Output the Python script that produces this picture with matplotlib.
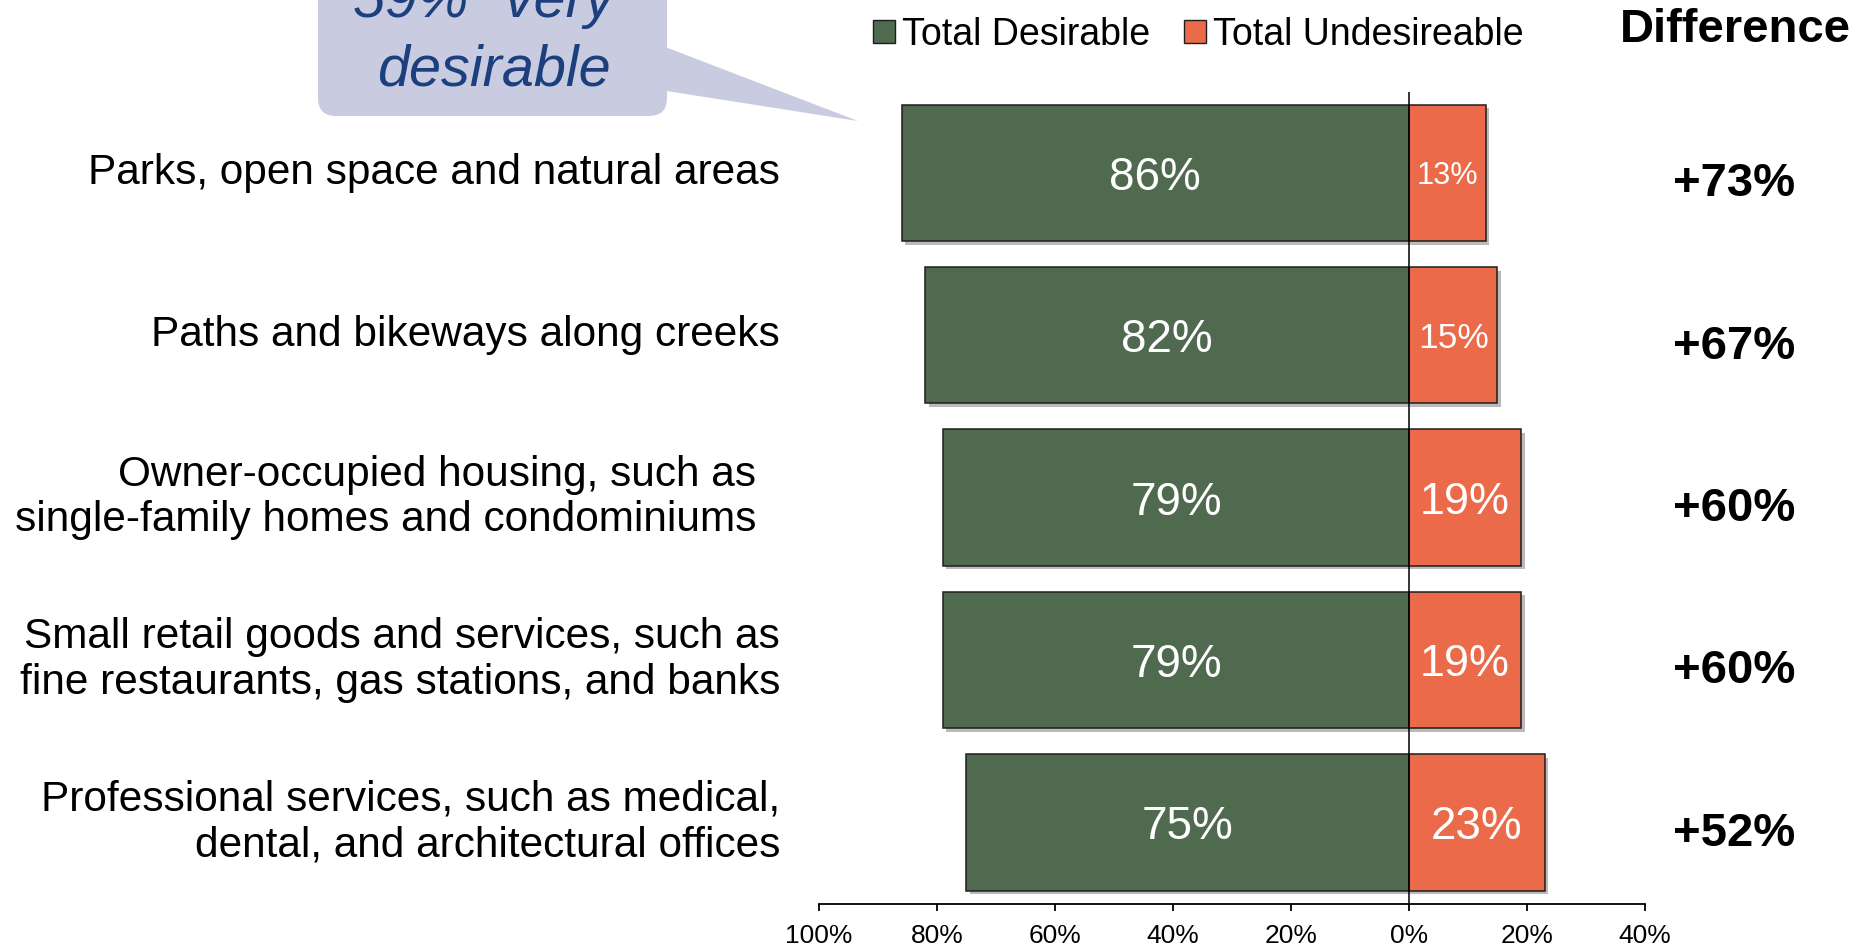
import matplotlib
matplotlib.use("Agg")
import matplotlib.pyplot as plt
import matplotlib.patheffects as pe
import matplotlib.transforms as mtransforms
from matplotlib.patches import Patch, FancyBboxPatch, Polygon

plt.rcParams['font.family'] = ['Liberation Sans', 'DejaVu Sans']

# data
categories = [
    "Parks, open space and natural areas",
    "Paths and bikeways along creeks",
    "Owner-occupied housing, such as  \nsingle-family homes and condominiums  ",
    "Small retail goods and services, such as\nfine restaurants, gas stations, and banks",
    "Professional services, such as medical,\ndental, and architectural offices",
]
desirable = [86, 82, 79, 79, 75]
undesirable = [13, 15, 19, 19, 23]
difference = [73, 67, 60, 60, 52]
tick_values = [-100, -80, -60, -40, -20, 0, 20, 40]
callout_lines = ['59% "very"', 'desirable']

green = '#506a50'
orange = '#ea6a4a'
W, H = 1874, 949

fig = plt.figure(figsize=(W / 100, H / 100), dpi=100)
ax = fig.add_axes([819 / W, 1 - 903.5 / H, 826 / W, (903.5 - 91.7) / H])
ax.patch.set_visible(False)

y = list(range(len(categories)))
shadow = [pe.SimplePatchShadow(offset=(2.5, -2.5), shadow_rgbFace='0.55', alpha=0.6), pe.Normal()]

bars_d = ax.barh(y, [-v for v in desirable], height=0.84, color=green,
                 edgecolor='#1e1e1e', linewidth=1.1, zorder=2)
bars_u = ax.barh(y, undesirable, height=0.84, color=orange,
                 edgecolor='#1e1e1e', linewidth=1.1, zorder=2)
for b in list(bars_d) + list(bars_u):
    b.set_path_effects(shadow)

ax.axvline(0, color='black', linewidth=1.1, zorder=3)

ax.set_xlim(-100, 40)
ax.set_ylim(4.5, -0.5)

# value labels inside bars
px_per_pct = 826 / 140
for i in y:
    ax.text(-desirable[i] / 2, i, f"{desirable[i]}%", ha='center', va='center_baseline',
            color='white', fontsize=33, zorder=4)
    # shrink the label to fit narrow bars
    fs = min(33, undesirable[i] * px_per_pct * 0.8 / 2.0 / (100 / 72))
    ax.text(undesirable[i] / 2, i, f"{undesirable[i]}%", ha='center', va='center_baseline',
            color='white', fontsize=fs, zorder=4)

# category labels + difference column
trans = mtransforms.blended_transform_factory(fig.transFigure, ax.transData)
for i in y:
    ax.text(780 / W, i, categories[i], transform=trans, ha='right', va='center',
            fontsize=30.5, linespacing=1.18)
    ax.text(1734 / W, i + 0.07, f"+{difference[i]}%", transform=trans, ha='center',
            va='center', fontsize=34, weight='bold')

fig.text(1735 / W, 1 - 30 / H, "Difference", ha='center', va='center',
         fontsize=34, weight='bold')

# axis styling
for s in ['left', 'top', 'right']:
    ax.spines[s].set_visible(False)
ax.spines['bottom'].set_linewidth(1.3)
ax.set_yticks([])
ax.set_xticks(tick_values)
ax.set_xticklabels([f"{abs(v)}%" for v in tick_values])
ax.tick_params(axis='x', direction='out', length=5, width=1.3, labelsize=19, pad=10)

# legend
handles = [Patch(facecolor=green, edgecolor='#1e1e1e', label='Total Desirable'),
           Patch(facecolor=orange, edgecolor='#1e1e1e', label='Total Undesireable')]
fig.legend(handles=handles, loc='center left', bbox_to_anchor=(873 / W, 1 - 35 / H),
           ncol=2, frameon=False, fontsize=27, handlelength=0.58, handleheight=0.58,
           handletextpad=0.2, columnspacing=0.9, borderpad=0, borderaxespad=0)

# callout bubble (pixel coordinates)
cax = fig.add_axes([0, 0, 1, 1], zorder=-1)
cax.set_xlim(0, W)
cax.set_ylim(H, 0)
cax.axis('off')
bubble_color = '#c9cce1'
cax.add_patch(FancyBboxPatch((318, -80), 349, 196, boxstyle='round,pad=0,rounding_size=18',
                             facecolor=bubble_color, edgecolor='none'))
cax.add_patch(Polygon([(660, 45), (858, 121), (660, 90)], closed=True,
                      facecolor=bubble_color, edgecolor='none'))
cax.text(494, 17, callout_lines[0], ha='center', va='baseline', fontsize=41.5,
         style='italic', color='#1c3f7e')
cax.text(494, 85, callout_lines[1], ha='center', va='baseline', fontsize=41.5,
         style='italic', color='#1c3f7e')

fig.savefig('out.png', dpi=100)
